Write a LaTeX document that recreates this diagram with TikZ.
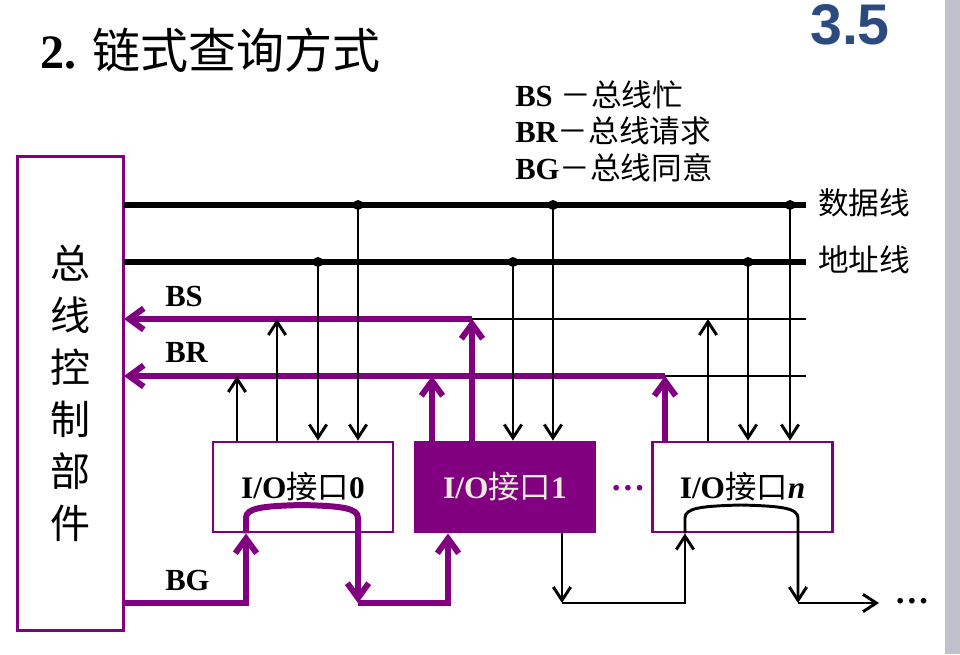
\documentclass[tikz,border=0pt]{standalone}
\usepackage{fontspec}
\setmainfont{Liberation Serif}
\newfontfamily\cjk{Noto Sans CJK SC}
\newfontfamily\headfont{Liberation Sans}
\usetikzlibrary{arrows.meta}
\definecolor{busviolet}{HTML}{800080}
\definecolor{slideblue}{HTML}{2B4A7E}
\definecolor{edgegray}{HTML}{BFC2CA}
\definecolor{chiptext}{HTML}{F0EBDF}
\tikzset{
  iobox/.style={draw=busviolet,line width=2.2pt,fill=white,minimum width=135pt,minimum height=67.5pt,inner sep=0pt,font=\fontsize{23.5}{27}\selectfont\bfseries},
  iobusy/.style={iobox,fill=busviolet,text=chiptext},
  ctrlbox/.style={draw=busviolet,line width=2.2pt,minimum width=80pt,minimum height=355pt,align=center,font=\fontsize{30}{39}\selectfont\cjk},
  bus/.style={line width=5.2pt},
  tap/.style={circle,fill=black,inner sep=0pt,minimum size=7.5pt},
  wire/.style={line width=2.2pt},
  sig/.style={wire,-{Straight Barb[length=10pt,width=13pt]}},
  vwire/.style={line width=4.5pt,draw=busviolet},
  vsig/.style={vwire,-{Straight Barb[length=11pt,width=16pt]}},
  siglabel/.style={anchor=west,inner sep=0pt,font=\fontsize{23}{27}\selectfont\bfseries},
  buslabel/.style={anchor=west,inner sep=0pt,font=\fontsize{23}{27}\selectfont\cjk},
  legend/.style={anchor=west,inner sep=0pt,font=\fontsize{23}{27}\selectfont\bfseries}
}
\begin{document}
\begin{tikzpicture}[x=0.75pt,y=0.75pt]
  \useasboundingbox (0,0) rectangle (960,-654);
  \fill[edgegray] (945,0) rectangle (960,-654);
  % headings
  \node[anchor=west,inner sep=0pt,font=\fontsize{36}{40}\selectfont\bfseries] (title) at (40,-50) {2. {\cjk\mdseries 链式查询方式}};
  \node[inner sep=0pt,text=slideblue,font=\fontsize{43}{48}\selectfont\headfont\bfseries] (secno) at (850,-25) {3.5};
  \node[legend] (lgbs) at (515,-95) {BS {\cjk\mdseries －总线忙}};
  \node[legend] (lgbr) at (515,-131) {BR{\cjk\mdseries －总线请求}};
  \node[legend] (lgbg) at (515,-168) {BG{\cjk\mdseries －总线同意}};
  % units
  \node[ctrlbox] (ctrl) at (70.5,-393.5) {总\\线\\控\\制\\部\\件};
  \node[iobox] (io0) at (303,-487) {I/O{\cjk\mdseries 接口}0};
  \node[iobusy] (io1) at (505,-487) {I/O{\cjk\mdseries 接口}1};
  \node[iobox] (ion) at (742.5,-487) {I/O{\cjk\mdseries 接口}\textit{n}};
  \node[inner sep=0pt,text=busviolet,font=\fontsize{26}{30}\selectfont\bfseries] (dotsmid) at (628,-488) {\dots};
  % buses
  \coordinate (dataL) at (124,-205); \coordinate (dataR) at (806,-205);
  \coordinate (addrL) at (124,-262); \coordinate (addrR) at (806,-262);
  \coordinate (bsL) at (124,-319); \coordinate (bsR) at (806,-319);
  \coordinate (brL) at (124,-376); \coordinate (brR) at (806,-376);
  \draw[bus] (dataL) -- (dataR);
  \draw[bus] (addrL) -- (addrR);
  \node[buslabel] (datalbl) at (818,-203) {数据线};
  \node[buslabel] (addrlbl) at (818,-260) {地址线};
  \node[siglabel] (bslbl) at (165,-296) {BS};
  \node[siglabel] (brlbl) at (165,-352) {BR};
  \node[siglabel] (bglbl) at (165,-580) {BG};
  \coordinate (bs1) at (472,-319);
  \coordinate (brn) at (665,-376);
  \draw[wire] (bs1) -- (bsR);
  \draw[wire] (brn) -- (brR);
  \draw[vsig] (bs1) -- (bsL);
  \draw[vsig] (brn) -- (brL);
  % interface 0
  \coordinate (br0) at (237,-376);
  \coordinate (bs0) at (277,-319);
  \node[tap] (a0) at (318,-262) {};
  \node[tap] (d0) at (358,-205) {};
  \draw[sig] (br0 |- io0.north) -- (br0);
  \draw[sig] (bs0 |- io0.north) -- (bs0);
  \draw[sig] (a0.center) -- (a0 |- io0.north);
  \draw[sig] (d0.center) -- (d0 |- io0.north);
  % interface 1
  \coordinate (br1) at (432,-376);
  \node[tap] (a1) at (513,-262) {};
  \node[tap] (d1) at (553,-205) {};
  \draw[vsig] (br1 |- io1.north) -- (br1);
  \draw[vsig] (bs1 |- io1.north) -- (bs1);
  \draw[sig] (a1.center) -- (a1 |- io1.north);
  \draw[sig] (d1.center) -- (d1 |- io1.north);
  % interface n
  \coordinate (bsn) at (708,-319);
  \node[tap] (an) at (748,-262) {};
  \node[tap] (dn) at (790,-205) {};
  \draw[vsig] (brn |- ion.north) -- (brn);
  \draw[sig] (bsn |- ion.north) -- (bsn);
  \draw[sig] (an.center) -- (an |- ion.north);
  \draw[sig] (dn.center) -- (dn |- ion.north);
  % grant chain
  \coordinate (bgL) at (124,-603);
  \coordinate (g0in) at (246,-603);
  \coordinate (g0out) at (358,-603);
  \coordinate (g1in) at (448,-603);
  \coordinate (g1out) at (562,-603);
  \coordinate (gnin) at (685,-603);
  \coordinate (gnout) at (798,-603);
  \coordinate (gend) at (879,-603);
  \draw[vsig] (bgL) -- (g0in) -- (g0in |- io0.south);
  \draw[vsig] (g0in |- io0.south) -- (246,-518) .. controls (246,-508) and (262,-506) .. (302,-505)
    .. controls (342,-506) and (358,-508) .. (358,-518) -- (g0out);
  \draw[vsig] (g0out) -- (g1in) -- (g1in |- io1.south);
  \draw[sig] (g1out |- io1.south) -- (g1out);
  \draw[sig] (g1out) -- (gnin) -- (gnin |- ion.south);
  \draw[sig] (gnin |- ion.south) -- (685,-518) .. controls (685,-508) and (701,-506) .. (741,-505)
    .. controls (781,-506) and (798,-508) .. (798,-518) -- (gnout);
  \draw[sig] (gnout) -- (gend);
  \node[inner sep=0pt,font=\fontsize{26}{30}\selectfont\bfseries] (dotsend) at (912,-601) {\dots};
\end{tikzpicture}
\end{document}
